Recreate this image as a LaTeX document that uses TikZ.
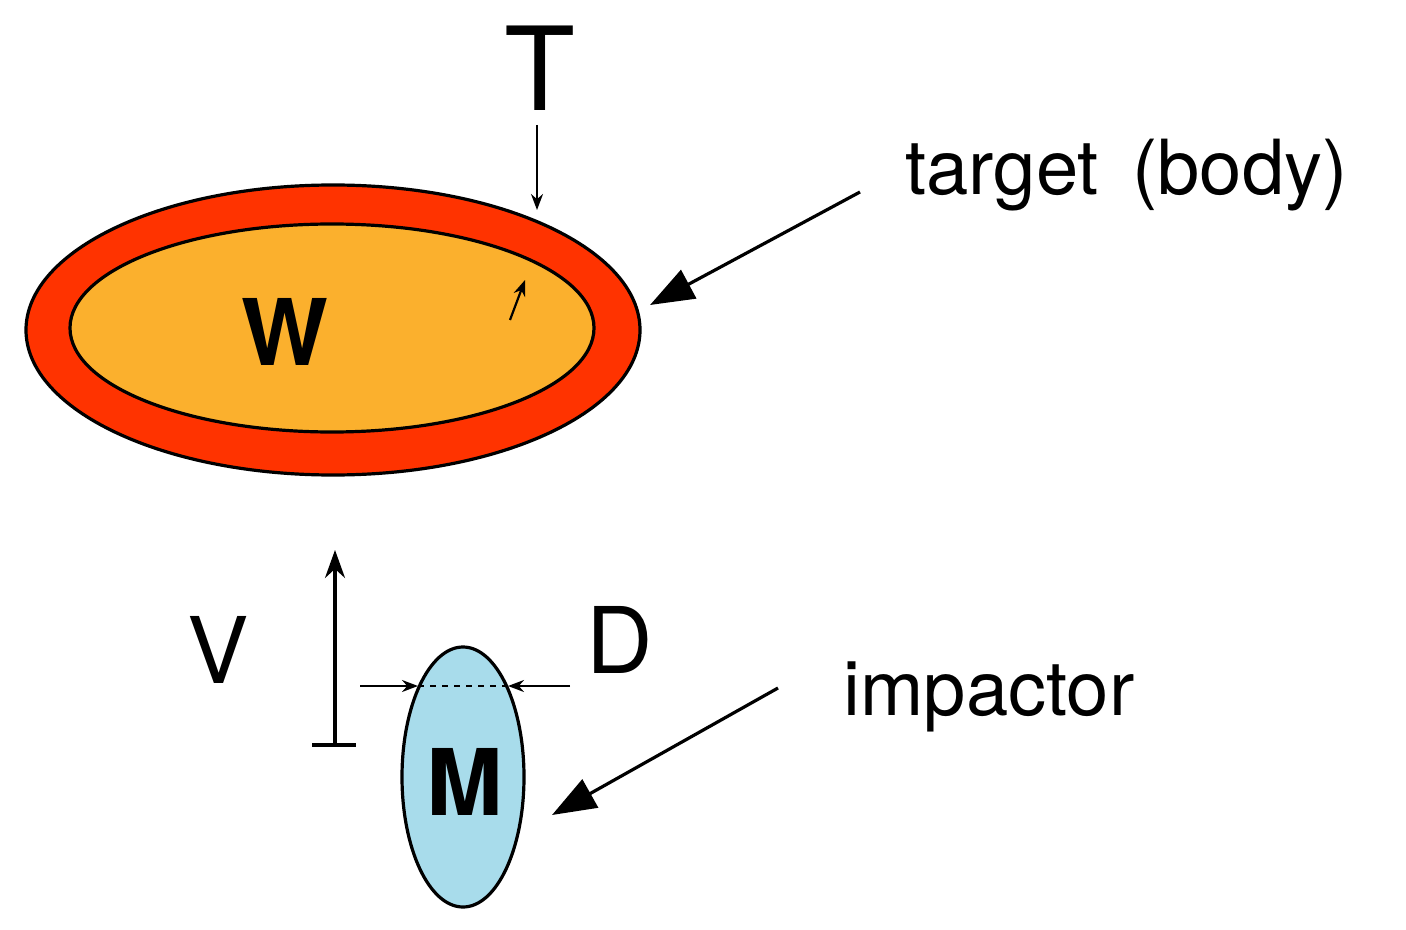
\documentclass[tikz,border=0pt]{standalone}
\usepackage{fontspec}
\setmainfont{TeX Gyre Heros}
\usetikzlibrary{arrows.meta}
\definecolor{outerred}{HTML}{FF3300}
\definecolor{innerorange}{HTML}{FBB02D}
\definecolor{lightblue}{HTML}{A8DCEB}
\begin{document}
\begin{tikzpicture}[x=0.5pt,y=-0.5pt,
  lbl/.style={inner sep=0pt,anchor=base west,font=\fontsize{38}{40}\selectfont},
  big/.style={inner sep=0pt,font=\fontsize{46}{48}\selectfont},
  arr/.style={line width=1.6pt,-{Triangle[length=22pt,width=16pt]}},
  small/.style={line width=1.1pt,-{Stealth[length=8pt,width=6pt]}}]
\useasboundingbox (0,0) rectangle (1406,930);
\draw[line width=1.6pt,fill=outerred] (333,330) ellipse [x radius=307,y radius=145];
\draw[line width=1.6pt,fill=innerorange] (332,328) ellipse [x radius=262,y radius=104];
\node[big,font=\fontsize{46}{48}\selectfont\bfseries] (W) at (285,332) {W};
\node[big,font=\fontsize{58}{60}\selectfont] (T) at (540,68) {T};
\coordinate (tTop) at (537,125);
\coordinate (tBot) at (537,210);
\draw[small] (tTop) -- (tBot);
\coordinate (s1) at (510,320);
\coordinate (s2) at (525,280);
\draw[small] (s1) -- (s2);
\node[lbl] (tgt) at (905,195) {target\, (body)};
\coordinate (ta) at (860,192);
\coordinate (tb) at (650,305);
\draw[arr] (ta) -- (tb);
\draw[line width=1.6pt,fill=lightblue] (463,777) ellipse [x radius=61,y radius=130];
\node[big,font=\fontsize{46}{48}\selectfont\bfseries] (M) at (465,782) {M};
\coordinate (d1) at (418,686);
\coordinate (d2) at (508,686);
\draw[line width=1.1pt,dashed] (d1) -- (d2);
\coordinate (la) at (360,686);
\coordinate (ra) at (570,686);
\draw[small] (la) -- (d1);
\draw[small] (ra) -- (d2);
\node[big] (D) at (620,640) {D};
\node[big] (V) at (218,650) {V};
\coordinate (vb) at (335,745);
\coordinate (vt) at (335,550);
\draw[line width=1.6pt,-{Stealth[length=14pt,width=10pt]}] (vb) -- (vt);
\coordinate (bl) at (312,745);
\coordinate (br) at (356,745);
\draw[line width=1.6pt] (bl) -- (br);
\node[lbl] (imp) at (843,715) {impactor};
\coordinate (ia) at (778,688);
\coordinate (ib) at (552,815);
\draw[arr] (ia) -- (ib);
\end{tikzpicture}
\end{document}
